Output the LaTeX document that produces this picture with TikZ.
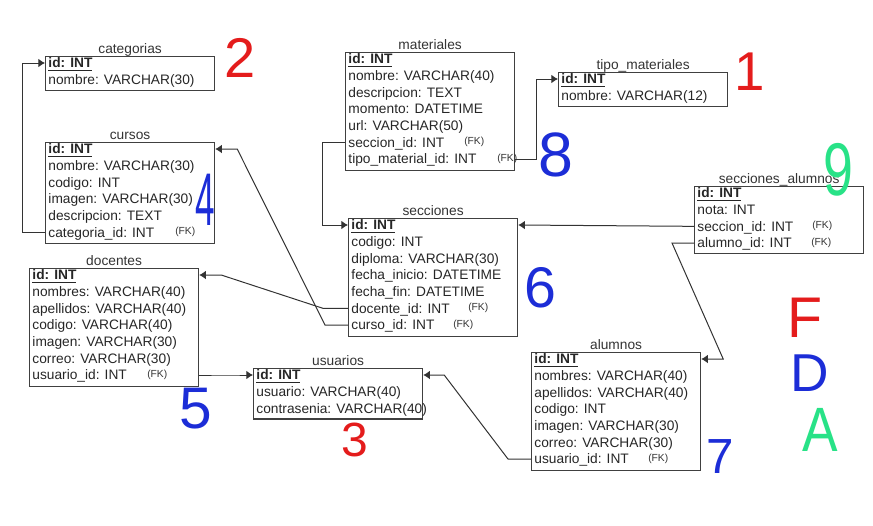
\documentclass[tikz,border=0pt]{standalone}
\usepackage{fontspec}
\setmainfont{Liberation Sans}
\usepackage{xcolor}
\usetikzlibrary{arrows.meta,positioning,calc}

\definecolor{rojo}{RGB}{228,28,28}
\definecolor{azul}{RGB}{28,45,215}
\definecolor{verde}{RGB}{40,226,135}

\tikzset{
  caja/.style={draw=black!75, line width=0.9pt, minimum width=126.75pt, anchor=north west, inner sep=0pt},
  titulo/.style={anchor=base, inner sep=0pt, text=black!80},
  fila/.style={anchor=west, inner sep=0pt, text height=7.4pt, text depth=0pt, text=black!85},
  fk/.style={anchor=west, inner sep=0pt, font=\fontsize{7.7}{8}\selectfont, text=black!80},
  rel/.style={draw=black!80, line width=0.75pt, -{Latex[length=5pt,width=6.5pt]}},
  mano/.style={inner sep=0pt, font=\fontsize{#1}{#1}\selectfont},
}

% table: name, top-left corner, title, number of rows, rows
\newcommand{\tabla}[5]{%
  \node[caja, minimum height=#4*12.6pt] (#1) at (#2) {};
  \node[titulo] (#1-tit) at ([yshift=2.2pt]#1.north) {#3};
  \foreach \t [count=\i] in {#5}
    \node[fila] (#1-\i) at ([xshift=2.4pt, yshift={-5.25pt-(\i-1)*12.5pt}]#1.north west) {\t};
}
\newcommand{\fk}[3]{\node[fk, xshift=#3*0.75pt] (#1-#2-fk) at (#1-#2 -| #1.west) {(FK)};}
\newcommand{\llave}{\underline{\textbf{id: INT}}}
% narrow hand written glyph
\newcommand{\estrecho}[2]{\scalebox{#1}[1]{#2}}

\begin{document}
\begin{tikzpicture}[x=0.75pt, y=-0.75pt, font=\fontsize{10.3}{12}\selectfont]
  \useasboundingbox (0,0) rectangle (873,525);

  % tables
  \tabla{cat}{45,56}{categorias}{2}{\llave, nombre: VARCHAR(30)}
  \tabla{cur}{45,142}{cursos}{6}{\llave, nombre: VARCHAR(30), codigo: INT, imagen: VARCHAR(30), descripcion: TEXT, categoria\_id: INT}
  \tabla{mat}{345,52}{materiales}{7}{\llave, nombre: VARCHAR(40), descripcion: TEXT, momento: DATETIME, url: VARCHAR(50), seccion\_id: INT, tipo\_material\_id: INT}
  \tabla{tip}{558,72}{tipo\_materiales}{2}{\llave, nombre: VARCHAR(12)}
  \tabla{secal}{694,186}{secciones\_alumnos}{4}{\llave, nota: INT, seccion\_id: INT, alumno\_id: INT}
  \tabla{sec}{348,218}{secciones}{7}{\llave, codigo: INT, diploma: VARCHAR(30), fecha\_inicio: DATETIME, fecha\_fin: DATETIME, docente\_id: INT, curso\_id: INT}
  \tabla{doc}{29,268}{docentes}{7}{\llave, nombres: VARCHAR(40), apellidos: VARCHAR(40), codigo: VARCHAR(40), imagen: VARCHAR(30), correo: VARCHAR(30), usuario\_id: INT}
  \tabla{usu}{253,368}{usuarios}{3}{\llave, usuario: VARCHAR(40), contrasenia: VARCHAR(40)}
  \tabla{alu}{531,352}{alumnos}{7}{\llave, nombres: VARCHAR(40), apellidos: VARCHAR(40), codigo: INT, imagen: VARCHAR(30), correo: VARCHAR(30), usuario\_id: INT}

  % foreign key marks
  \fk{cur}{6}{130}
  \fk{mat}{6}{119}
  \fk{mat}{7}{152}
  \fk{sec}{6}{120}
  \fk{sec}{7}{105}
  \fk{secal}{3}{118}
  \fk{secal}{4}{117}
  \fk{doc}{7}{118}
  \fk{alu}{7}{117}

  % relations
  \draw[rel] (cur.west |- cur-6) -- ++(-23,0) |- (cat.west |- cat-1);
  \draw[rel] (sec.west |- sec-7) -- ++(-23,0) -- ($(cur.east |- cur-1)+(22,0)$) -- (cur.east |- cur-1);
  \draw[rel] (sec.west |- sec-6) -- ++(-25,0) -- ($(doc.east |- doc-1)+(22,0)$) -- (doc.east |- doc-1);
  \draw[rel] (mat.west |- mat-6) -- ++(-23,0) |- (sec.west |- sec-1);
  \draw[rel] (mat.east |- mat-7) -- ++(21,0) |- (tip.west |- tip-1);
  \draw[rel] (secal.west |- secal-3) -- (sec.east |- sec-1);
  \draw[rel] (secal.west |- secal-4) -- ++(-22,0) -- ($(alu.east |- alu-1)+(22,0)$) -- (alu.east |- alu-1);
  \draw[rel] (alu.west |- alu-7) -- ++(-23,0) -- ($(usu.east |- usu-1)+(21,0)$) -- (usu.east |- usu-1);
  \draw[rel] (doc.east |- doc-7) -- ++(24,0) -- ($(usu.west |- usu-1)+(-20,0)$) -- (usu.west |- usu-1);

  % hand written marks
  \node[mano=42, text=rojo] (m2) at (240,58) {2};
  \node[mano=41, text=rojo] (m1) at (750,72) {1};
  \node[mano=56, text=azul] (m4) at (205,200) {\estrecho{0.47}{4}};
  \node[mano=47, text=azul] (m8) at (556,155) {8};
  \node[mano=56, text=verde] (m9) at (838,170) {\estrecho{0.72}{9}};
  \node[mano=43, text=azul] (m6) at (540,288) {6};
  \node[mano=43, text=rojo] (mF) at (805,318) {F};
  \node[mano=40, text=azul] (mD) at (810,373) {D};
  \node[mano=47, text=verde] (mA) at (820,430) {\estrecho{0.85}{A}};
  \node[mano=44, text=azul] (m5) at (196,409) {5};
  \node[mano=36, text=rojo] (m3) at (355,440) {3};
  \node[mano=37, text=azul] (m7) at (720,457) {7};
\end{tikzpicture}
\end{document}
